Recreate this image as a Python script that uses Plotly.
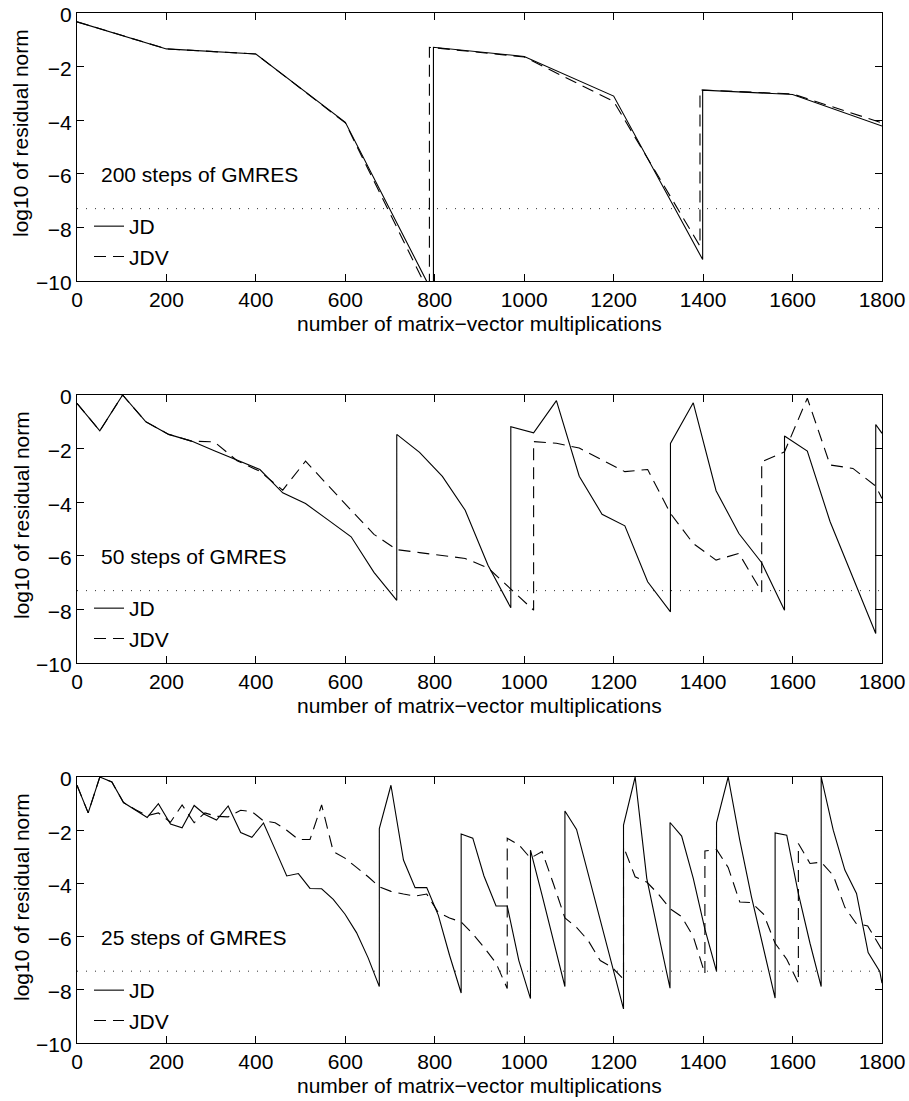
import plotly.graph_objects as go

# ---------------- data ----------------
x_ticks = [0, 200, 400, 600, 800, 1000, 1200, 1400, 1600, 1800]
y_ticks = [0, -2, -4, -6, -8, -10]
tolerance = -7.3

# 200 steps of GMRES
jd200_x = [0, 200, 400, 600, 797, 797, 1000, 1200, 1399, 1399, 1600, 1800]
jd200_y = [-0.33, -1.34, -1.53, -4.08, -10.5, -1.28, -1.62, -3.1, -9.2, -2.88, -3.04, -4.22]
jdv200_x = [0, 200, 400, 600, 788, 788, 1000, 1200, 1393, 1393, 1600, 1800]
jdv200_y = [-0.33, -1.34, -1.53, -4.1, -10.47, -1.28, -1.64, -3.3, -8.7, -2.87, -3.02, -4.1]

# 50 steps of GMRES
jd50_x = [0, 51, 102, 154, 205, 256, 307, 358, 409, 460,
          511, 562, 613, 664, 715, 715, 766, 817, 868, 919,
          970, 970, 1021, 1072, 1123, 1174, 1225, 1276, 1327, 1327,
          1378, 1429, 1480, 1531, 1582, 1582, 1633, 1684, 1735, 1786,
          1786, 1800]
jd50_y = [-0.31, -1.34, 0, -1.0, -1.47, -1.72, -2.08, -2.43, -2.78, -3.65,
          -4.05, -4.67, -5.29, -6.62, -7.66, -1.47, -2.14, -3.04, -4.3, -6.35,
          -7.94, -1.18, -1.41, -0.21, -3.03, -4.45, -4.88, -6.97, -8.09, -1.81,
          -0.29, -3.57, -5.17, -6.26, -8.03, -1.53, -2.09, -4.73, -6.8, -8.9,
          -1.1, -1.43]
jdv50_x = [0, 51, 102, 154, 205, 256, 307, 358, 409, 460,
           511, 562, 613, 664, 715, 766, 817, 868, 919, 970,
           1021, 1021, 1072, 1123, 1174, 1225, 1276, 1327, 1378, 1429,
           1480, 1531, 1531, 1582, 1633, 1684, 1735, 1786, 1800]
jdv50_y = [-0.31, -1.34, 0, -1.0, -1.47, -1.72, -1.75, -2.45, -2.85, -3.55,
           -2.47, -3.4, -4.3, -5.2, -5.77, -5.88, -5.98, -6.1, -6.45, -7.25,
           -8.03, -1.74, -1.8, -1.98, -2.43, -2.86, -2.78, -4.42, -5.54, -6.16,
           -5.91, -7.35, -2.49, -2.12, -0.12, -2.61, -2.74, -3.4, -3.86]

# 25 steps of GMRES
jd25_x = [0, 25, 51, 78, 104, 130, 157, 182, 209, 235,
          262, 286, 312, 338, 366, 391, 417, 443, 469, 495,
          521, 547, 573, 599, 625, 651, 676, 676, 702, 730,
          756, 782, 808, 833, 859, 859, 885, 910, 937, 962,
          988, 1014, 1014, 1040, 1066, 1091, 1091, 1117, 1222, 1222,
          1248, 1274, 1300, 1326, 1326, 1352, 1378, 1404, 1430, 1430,
          1456, 1482, 1508, 1535, 1561, 1561, 1587, 1613, 1639, 1664,
          1664, 1691, 1717, 1743, 1769, 1795, 1800]
jd25_y = [-0.31, -1.35, 0, -0.19, -0.96, -1.22, -1.52, -1.0, -1.77, -1.91,
          -1.07, -1.41, -1.62, -1.09, -2.09, -2.27, -1.73, -2.72, -3.72, -3.63,
          -4.19, -4.2, -4.6, -5.15, -5.85, -6.8, -7.88, -1.94, -0.31, -3.12,
          -4.16, -4.16, -5.2, -6.7, -8.12, -2.14, -2.3, -3.72, -4.85, -4.85,
          -6.9, -8.33, -2.75, -4.45, -6.2, -7.88, -1.28, -1.97, -8.72, -1.81,
          0, -3.81, -5.9, -7.94, -1.71, -2.22, -3.81, -5.72, -7.31, -1.72,
          0, -2.37, -4.5, -6.4, -8.31, -2.1, -2.19, -4.38, -6.25, -7.88,
          0, -2.0, -3.5, -4.38, -6.6, -7.31, -7.75]
jdv25_x = [0, 25, 51, 78, 104, 130, 157, 182, 209, 235,
           262, 286, 312, 338, 366, 391, 417, 443, 469, 495,
           521, 547, 573, 599, 625, 651, 676, 702, 730, 756,
           782, 808, 833, 859, 885, 910, 937, 962, 962, 988,
           1014, 1040, 1066, 1091, 1117, 1143, 1170, 1196, 1222, 1222,
           1248, 1274, 1300, 1326, 1352, 1378, 1404, 1404, 1430, 1456,
           1482, 1508, 1535, 1561, 1587, 1613, 1613, 1639, 1664, 1691,
           1717, 1742, 1768, 1794, 1800]
jdv25_y = [-0.31, -1.35, 0, -0.19, -0.96, -1.22, -1.45, -1.35, -1.7, -1.05,
           -1.72, -1.35, -1.48, -1.5, -1.25, -1.3, -1.65, -1.72, -2.0, -2.35,
           -2.35, -1.05, -2.8, -3.05, -3.4, -3.75, -4.13, -4.3, -4.4, -4.48,
           -4.4, -5.1, -5.3, -5.45, -5.9, -6.4, -7.0, -7.95, -2.3, -2.55,
           -3.05, -2.8, -4.05, -5.3, -5.65, -6.15, -6.9, -7.15, -7.6, -2.62,
           -3.75, -3.95, -4.4, -4.95, -5.25, -6.0, -7.4, -2.78, -2.72, -3.4,
           -4.7, -4.72, -5.15, -6.25, -6.85, -7.75, -2.5, -3.25, -3.2, -3.7,
           -4.9, -5.5, -5.6, -6.3, -6.5]

panels = [
    ("200 steps of GMRES", jd200_x, jd200_y, jdv200_x, jdv200_y),
    ("50 steps of GMRES", jd50_x, jd50_y, jdv50_x, jdv50_y),
    ("25 steps of GMRES", jd25_x, jd25_y, jdv25_x, jdv25_y),
]

# ---------------- layout geometry (screen pixels) ----------------
W, H = 909, 1101
plot_left, plot_right = 77, 882
panel_px = [(13, 281), (395, 663), (777, 1043)]  # (top, bottom)
ML = plot_left
MR = W - plot_right
MT = panel_px[0][0]
MB = H - panel_px[-1][1]
PH = H - MT - MB
PW = W - ML - MR


def py2paper(py):
    return (H - MB - py) / PH


def px2paper(px):
    return (px - ML) / PW


FONT = "Liberation Sans, Arial, Helvetica, sans-serif"
FS = 21
DASH = "12px,7px"

fig = go.Figure()
layout = dict(
    width=W, height=H,
    margin=dict(l=ML, r=MR, t=MT, b=MB, autoexpand=False),
    paper_bgcolor="white", plot_bgcolor="white",
    font=dict(family=FONT, size=FS, color="black"),
    showlegend=True,
)
annotations = []

for i, (label, jx, jy, vx, vy) in enumerate(panels):
    n = "" if i == 0 else str(i + 1)
    xa, ya = "x" + n, "y" + n
    leg = "legend" + n
    top, bot = panel_px[i]
    fig.add_trace(go.Scatter(x=jx, y=jy, mode="lines", name="JD",
                             line=dict(color="black", width=1.1),
                             xaxis=xa, yaxis=ya, legend=leg))
    fig.add_trace(go.Scatter(x=vx, y=vy, mode="lines", name="JDV",
                             line=dict(color="black", width=1.1, dash=DASH),
                             xaxis=xa, yaxis=ya, legend=leg))
    fig.add_trace(go.Scatter(x=[x_ticks[0], x_ticks[-1]], y=[tolerance, tolerance],
                             mode="lines", showlegend=False, hoverinfo="skip",
                             line=dict(color="#333333", width=1, dash="1px,8px"),
                             xaxis=xa, yaxis=ya))
    axcommon = dict(showline=True, linecolor="black", linewidth=1.2,
                    mirror="ticks", ticks="inside", ticklen=7, tickwidth=1,
                    tickcolor="black", showgrid=False, zeroline=False,
                    ticklabeloverflow="allow",
                    tickfont=dict(family=FONT, size=FS, color="black"))
    layout["xaxis" + n] = dict(domain=[0, 1], anchor=ya, range=[0, 1800],
                               tickvals=x_ticks, **axcommon)
    layout["yaxis" + n] = dict(domain=[py2paper(bot), py2paper(top)], anchor=xa,
                               range=[-10, 0], tickvals=y_ticks,
                               ticklabelshift=2, **axcommon)
    layout[leg] = dict(x=px2paper(89), y=py2paper(top + 193), xanchor="left", yanchor="top",
                       bgcolor="rgba(0,0,0,0)", borderwidth=0,
                       font=dict(family=FONT, size=FS, color="black"),
                       tracegroupgap=0, itemwidth=30)
    annotations.append(dict(text=label, x=50, y=-6.03, xref=xa, yref=ya,
                            xanchor="left", yanchor="middle", showarrow=False,
                            font=dict(family=FONT, size=FS, color="black")))
    annotations.append(dict(text="log10 of residual norm", x=px2paper(21),
                            y=py2paper(top + 120), xref="paper", yref="paper",
                            textangle=-90, xanchor="center", yanchor="middle",
                            showarrow=False,
                            font=dict(family=FONT, size=FS, color="black")))
    annotations.append(dict(text="number of matrix\u2212vector multiplications",
                            x=0.5, y=py2paper(bot + 42), xref="paper", yref="paper",
                            xanchor="center", yanchor="middle", showarrow=False,
                            font=dict(family=FONT, size=FS, color="black")))

layout["annotations"] = annotations
fig.update_layout(**layout)
# remove the default 8px page margin so the figure fills the window exactly
fig.write_html("out.html",
               config={"displayModeBar": False},
               post_script="document.body.style.margin='0px';")
